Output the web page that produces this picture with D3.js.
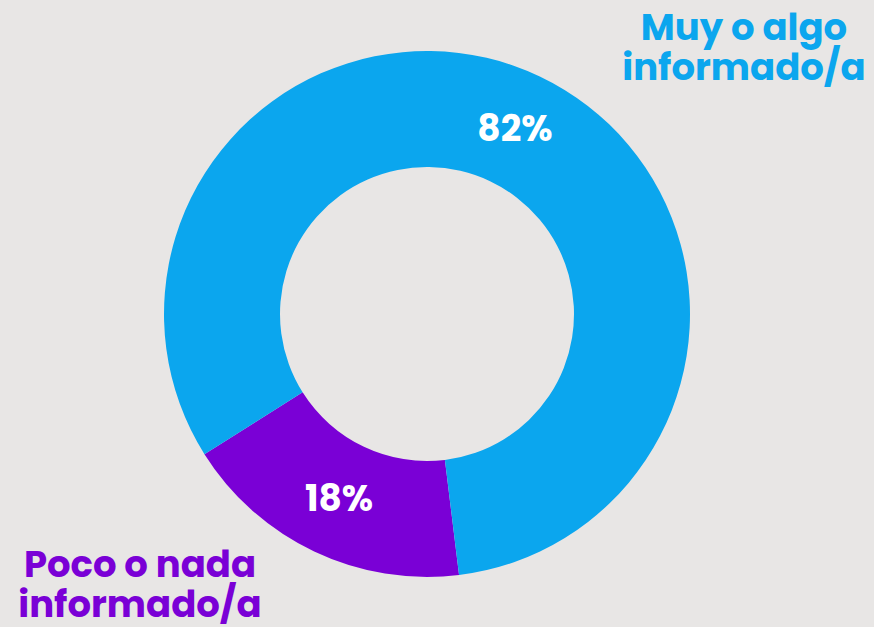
<!DOCTYPE html>
<html>
<head>
<meta charset="utf-8">
<script src="https://cdn.jsdelivr.net/npm/d3@7"></script>
<style>
  html, body { margin: 0; padding: 0; background: #e8e6e5; }
  svg { display: block; }
</style>
</head>
<body>
<div id="chart"></div>
<script>
//          Chart data
var categories = ["Poco o nada informado/a", "Muy o algo informado/a"];
var values = [18, 82];
var valueLabels = ["18%", "82%"];
var colors = ["#7a00d6", "#0ba6ee"];

//          Chart settings
var w = 874, h = 627;
var cx = 427, cy = 314;
var outerR = 263, innerR = 147;
var startDeg = 173;
var fontFam = "Poppins, Lato, 'Open Sans', sans-serif";

var svgChart = d3.select("#chart")
    .append("svg")
    .attr("width", w)
    .attr("height", h);

svgChart.append("rect")
    .attr("width", w).attr("height", h)
    .style("fill", "#e8e6e5");

var pie = d3.pie()
    .sort(null)
    .startAngle(startDeg * Math.PI / 180)
    .endAngle(startDeg * Math.PI / 180 + 2 * Math.PI);

var arc = d3.arc().innerRadius(innerR).outerRadius(outerR);

var g = svgChart.append("g").attr("transform", "translate(" + cx + "," + cy + ")");
var slices = pie(values);

g.selectAll("path.slice").data(slices).enter().append("path")
    .attr("class", "slice")
    .attr("d", arc)
    .style("fill", function(d, i) { return colors[i]; });

//        Slice values
g.selectAll("text.value").data(slices).enter().append("text")
    .attr("class", "value")
    .text(function(d, i) { return valueLabels[i]; })
    .attr("x", function(d) { return arc.centroid(d)[0]; })
    .attr("y", function(d) { return arc.centroid(d)[1] + 12; })
    .attr("text-anchor", "middle")
    .style("fill", "white")
    .style("font-family", fontFam)
    .style("font-weight", 700)
    .style("font-size", "36px");

//        Category labels
var labelPos = [[140, 577], [744, 40]];
var labelLines = [["Poco o nada", "informado/a"], ["Muy o algo", "informado/a"]];

labelLines.forEach(function(lines, i) {
    var t = svgChart.append("text")
        .attr("text-anchor", "middle")
        .style("fill", colors[i])
        .style("font-family", fontFam)
        .style("font-weight", 700)
        .style("font-size", "37px");
    lines.forEach(function(line, j) {
        t.append("tspan")
            .attr("x", labelPos[i][0])
            .attr("y", labelPos[i][1] + j * 40)
            .text(line);
    });
});
</script>
</body>
</html>
